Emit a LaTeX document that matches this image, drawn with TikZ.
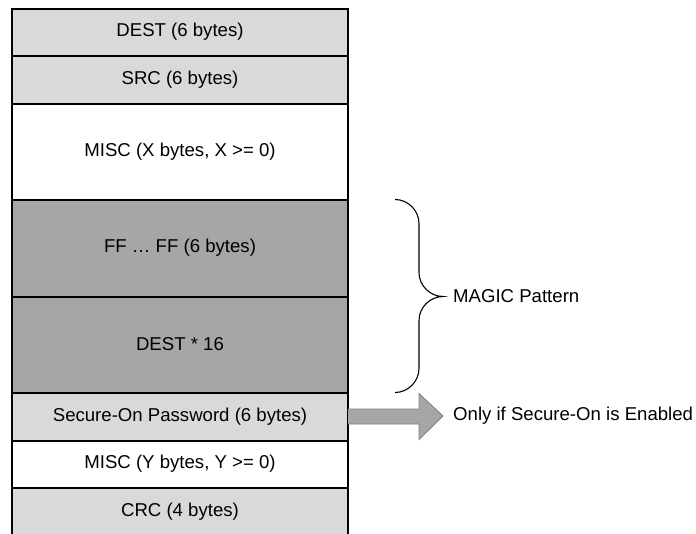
\documentclass[tikz,border=0pt]{standalone}
\usepackage{fontspec}
\setmainfont{Liberation Sans}
\usetikzlibrary{positioning}
\definecolor{lightfield}{HTML}{D9D9D9}
\definecolor{darkfield}{HTML}{A6A6A6}
\definecolor{arrowline}{HTML}{7F7F7F}
\tikzstyle{field} = [
  rectangle,
  minimum width=336pt,
  inner sep=0pt,
  outer sep=0pt,
  text centered,
  draw=black,
  line width=2pt,
  font=\fontsize{18.6}{22}\selectfont
]
\tikzstyle{note} = [inner sep=0pt, anchor=west, font=\fontsize{18.6}{22}\selectfont]
\tikzstyle{brace} = [draw=black, line width=1.1pt]
\tikzstyle{bigarrow} = [fill=darkfield, draw=arrowline, line width=0.8pt]

\begin{document}
\begin{tikzpicture}[x=1pt, y=1pt]
    \useasboundingbox (0,0) rectangle (696,-533);

    \node (dest) [field, fill=lightfield, minimum height=47pt] at (180,-32) {DEST (6 bytes)};
    \node (src) [field, fill=lightfield, minimum height=48pt, below=0pt of dest] {SRC (6 bytes)};
    \node (misc-x) [field, fill=white, minimum height=96pt, below=0pt of src] {MISC (X bytes, X >= 0)};
    \node (ff) [field, fill=darkfield, minimum height=97pt, below=0pt of misc-x] {FF … FF (6 bytes)};
    \node (dest-16) [field, fill=darkfield, minimum height=96pt, below=0pt of ff] {DEST * 16};
    \node (password) [field, fill=lightfield, minimum height=48pt, below=0pt of dest-16] {Secure-On Password (6 bytes)};
    \node (misc-y) [field, fill=white, minimum height=47pt, below=0pt of password] {MISC (Y bytes, Y >= 0)};
    \node (crc) [field, fill=lightfield, minimum height=48pt, below=0pt of misc-y] {CRC (4 bytes)};

    % brace over the magic pattern
    \coordinate (brace-top) at ([xshift=47pt]ff.north east);
    \coordinate (brace-bottom) at ([xshift=47pt]dest-16.south east);
    \coordinate (brace-tip) at ([xshift=95pt]ff.south east);
    \draw [brace] (brace-top) .. controls +(13,0) and +(0,13) .. ++(24,-24)
      -- ([xshift=-24pt, yshift=24pt]brace-tip) .. controls +(0,-13) and +(-13,0) .. (brace-tip)
      .. controls +(-13,0) and +(0,13) .. ([xshift=-24pt, yshift=-24pt]brace-tip)
      -- ([xshift=24pt, yshift=24pt]brace-bottom) .. controls +(0,-13) and +(13,0) .. (brace-bottom);
    \node (magic) [note, right=10pt of brace-tip] {MAGIC Pattern};

    % block arrow
    \coordinate (arrow-tip) at ([xshift=95pt, yshift=0.5pt]password.east);
    \filldraw [bigarrow] ([yshift=7.5pt]password.east) -- ++(71,0) -- ++(0,15.5)
      -- (arrow-tip) -- ++(-24,-23.5) -- ++(0,15.5) -- ([yshift=-7.5pt]password.east);
    \node (enabled) [note, right=10pt of arrow-tip] {Only if Secure-On is Enabled};
\end{tikzpicture}
\end{document}
